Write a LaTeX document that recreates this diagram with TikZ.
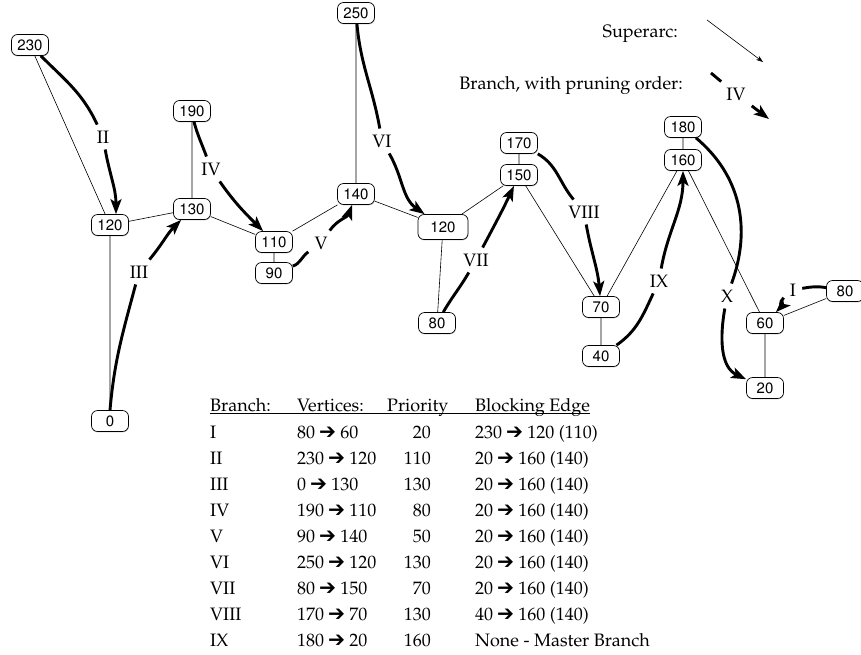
\documentclass[tikz,border=0pt]{standalone}
\usepackage[T1]{fontenc}
\renewcommand{\rmdefault}{ppl}
\renewcommand{\sfdefault}{phv}
\usepackage{pifont}
\usetikzlibrary{arrows.meta,shadows}
\newcommand{\rarr}{\ding{212}}
\newcommand{\ulhead}[1]{{\setbox0\hbox{#1}\rlap{\rule[-3.2pt]{\wd0}{0.8pt}}\box0}}
\begin{document}
\begin{tikzpicture}[x=1pt,y=-1pt,
  vnode/.style={draw, rounded corners=6pt, line width=0.7pt, fill=white,
    minimum width=37pt, minimum height=21pt, inner sep=1pt,
    font=\sffamily\fontsize{15}{15}\selectfont,
    drop shadow={shadow xshift=0.4pt, shadow yshift=-0.9pt, opacity=0.4}},
  bignode/.style={vnode, minimum width=50pt, minimum height=25pt},
  superarc/.style={line width=0.6pt},
  branch/.style={line width=2.9pt},
  brarrow/.style={branch, -{Stealth[length=15pt,width=11pt,inset=3.5pt]}},
  brlabel/.style={font=\rmfamily\fontsize{18}{18}\selectfont, inner sep=6pt},
  txt/.style={font=\rmfamily\fontsize{18}{21}\selectfont, inner sep=0pt},
]
\fill[white] (0,0) rectangle (861,654);
\useasboundingbox (0,0) rectangle (861,654);

% contour tree vertices
\node[vnode] (n230) at (30,45) {230};
\node[vnode] (n120a) at (110,225) {120};
\node[vnode] (n0) at (110,421) {0};
\node[vnode] (n130) at (192,209) {130};
\node[vnode] (n190) at (192,111) {190};
\node[vnode] (n110) at (274,242) {110};
\node[vnode] (n90) at (274,273) {90};
\node[vnode] (n140) at (356,194) {140};
\node[vnode] (n250) at (356,13) {250};
\node[bignode] (n120b) at (443,227) {120};
\node[vnode] (n80a) at (437,323) {80};
\node[vnode] (n170) at (519,143) {170};
\node[vnode] (n150) at (519,175) {150};
\node[vnode] (n70) at (601,307) {70};
\node[vnode] (n40) at (601,356) {40};
\node[vnode] (n180) at (683,127) {180};
\node[vnode] (n160) at (683,160) {160};
\node[vnode] (n60) at (765,323) {60};
\node[vnode] (n20) at (765,388) {20};
\node[vnode] (n80b) at (845,291) {80};

% superarcs
\draw[superarc] (n230) -- (n120a) (n120a) -- (n0) (n120a) -- (n130)
  (n130) -- (n190) (n130) -- (n110) (n110) -- (n90) (n110) -- (n140)
  (n140) -- (n250) (n140) -- (n120b) (n120b) -- (n80a) (n120b) -- (n150)
  (n150) -- (n170) (n150) -- (n70) (n70) -- (n40) (n70) -- (n160)
  (n160) -- (n180) (n160) -- (n60) (n60) -- (n20) (n60) -- (n80b);

% branch labels (pruning order)
\node[brlabel] (lI) at (793,290) {I};
\node[brlabel] (lII) at (103,137) {II};
\node[brlabel] (lIII) at (139,272) {III};
\node[brlabel] (lIV) at (211,169) {IV};
\node[brlabel] (lV) at (321,243) {V};
\node[brlabel] (lVI) at (382,141) {VI};
\node[brlabel] (lVII) at (476,260) {VII};
\node[brlabel] (lVIII) at (584,212) {VIII};
\node[brlabel] (lIX) at (659,281) {IX};
\node[brlabel] (lX) at (727,296) {X};

% branches
\draw[branch] (n80b) to[out=170,in=10] (lI);
\draw[brarrow] (lI) to[out=-140,in=45] (n60);
\draw[branch] (n230) to[out=-45,in=115] (lII);
\draw[brarrow] (lII) to[out=-80,in=90] ([xshift=6pt]n120a.north);
\draw[branch] (n0.north) to[out=85,in=-105] (lIII);
\draw[brarrow] (lIII) to[out=50,in=-135] (n130);
\draw[branch] ([xshift=2pt]n190.south) to[out=-75,in=110] (lIV);
\draw[brarrow] (lIV) to[out=-55,in=135] (n110);
\draw[branch] (n90) to[out=20,in=-145] (lV);
\draw[brarrow] (lV) to[out=55,in=-110] (n140);
\draw[branch] (n250) to[out=-85,in=100] (lVI);
\draw[brarrow] (lVI) to[out=-60,in=145] (n120b);
\draw[branch] (n80a) to[out=60,in=-120] (lVII);
\draw[brarrow] (lVII) to[out=62,in=-115] (n150);
\draw[branch] (n170) to[out=-30,in=130] (lVIII);
\draw[brarrow] (lVIII) to[out=-80,in=95] (n70);
\draw[branch] (n40) to[out=35,in=-115] (lIX);
\draw[brarrow] (lIX) to[out=80,in=-90] (n160);
\draw[branch] (n180) to[out=-40,in=70] (lX);
\draw[brarrow] (lX) to[out=-100,in=155] (n20);

% legend
\node[txt, anchor=base east] (lgSuper) at (678,37) {Superarc:};
\coordinate (sa1) at (707,20);
\coordinate (sa2) at (763,62);
\draw[superarc, -{Stealth[length=7pt,width=5pt]}] (sa1) -- (sa2);
\node[txt, anchor=base east] (lgBranch) at (683,89) {Branch, with pruning order:};
\coordinate (lb1) at (711,73);
\coordinate (lb2) at (769,119);
\node[brlabel] (lIVl) at (736,94) {IV};
\draw[branch] (lb1) -- (lIVl);
\draw[brarrow] (lIVl) -- (lb2);

% branch table
\node[txt, anchor=base west] (thead) at (210,411)
  {\ulhead{\makebox[87pt][l]{Branch:}\makebox[90pt][l]{Vertices:}\makebox[88pt][l]{Priority}Blocking Edge}};
\foreach \k/\b/\v/\p/\e in {
  1/I/80 \rarr{} 60/20/230 \rarr{} 120 (110),
  2/II/230 \rarr{} 120/110/20 \rarr{} 160 (140),
  3/III/0 \rarr{} 130/130/20 \rarr{} 160 (140),
  4/IV/190 \rarr{} 110/80/20 \rarr{} 160 (140),
  5/V/90 \rarr{} 140/50/20 \rarr{} 160 (140),
  6/VI/250 \rarr{} 120/130/20 \rarr{} 160 (140),
  7/VII/80 \rarr{} 150/70/20 \rarr{} 160 (140),
  8/VIII/170 \rarr{} 70/130/40 \rarr{} 160 (140),
  9/IX/180 \rarr{} 20/160/None - Master Branch}{
  \node[txt, anchor=base west] (tb\k) at (210,{438+26*(\k-1)}) {\b};
  \node[txt, anchor=base west] (tv\k) at (297,{438+26*(\k-1)}) {\v};
  \node[txt, anchor=base east] (tp\k) at (431,{438+26*(\k-1)}) {\p};
  \node[txt, anchor=base west] (te\k) at (475,{438+26*(\k-1)}) {\e};
}
\end{tikzpicture}
\end{document}
